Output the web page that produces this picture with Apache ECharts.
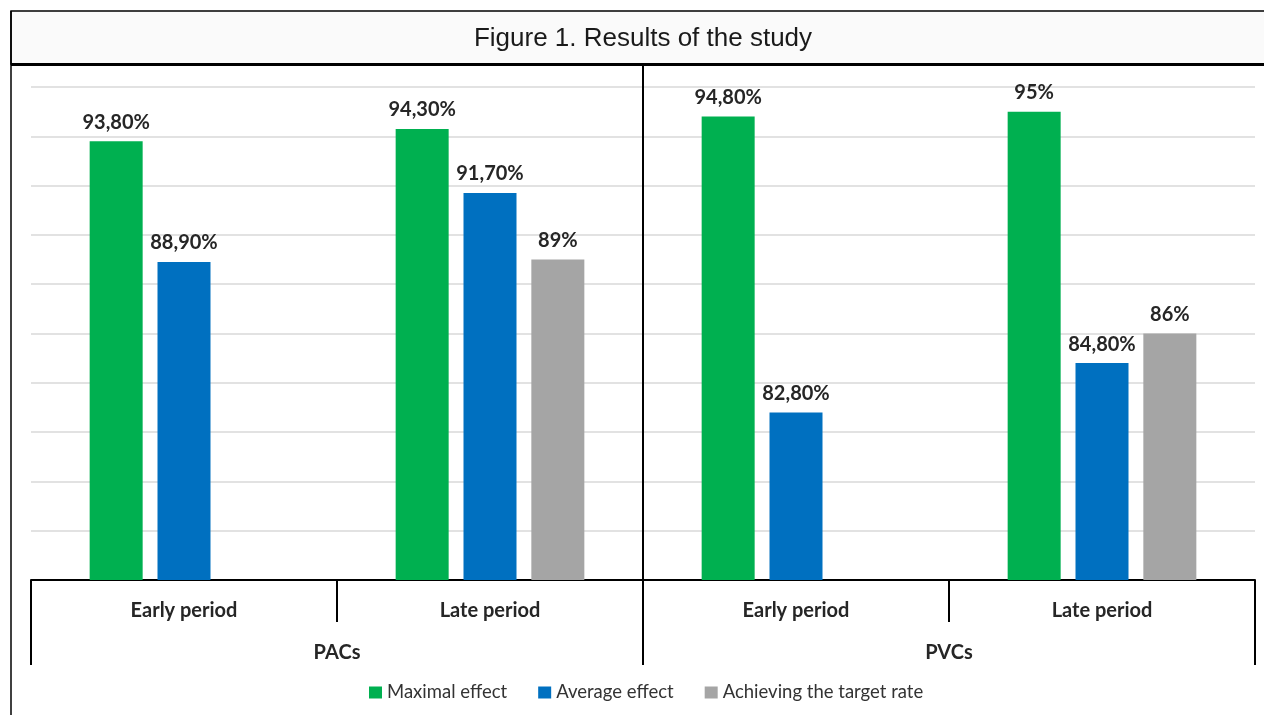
<!DOCTYPE html>
<html>
<head>
<meta charset="utf-8">
<style>
  html, body { margin: 0; padding: 0; background: #ffffff; }
  #chart { width: 1264px; height: 715px; }
</style>
<script src="https://cdn.jsdelivr.net/npm/echarts@6/dist/echarts.min.js"></script>
</head>
<body>
<div id="chart"></div>
<script>
// Periods (inner level) and arrhythmia type (outer level) of the category axis
const periods = ['Early period', 'Late period', 'Early period', 'Late period'];
const groups = ['PACs', 'PVCs'];

// Series names and values (%)
const seriesNames = ['Maximal effect', 'Average effect', 'Achieving the target rate'];
const maximalEffect = [93.8, 94.3, 94.8, 95];
const averageEffect = [88.9, 91.7, 82.8, 84.8];
const targetRate = [null, 89, null, 86];

const colors = ['#00B050', '#0070C0', '#A5A5A5'];

// Percent label with decimal comma, e.g. 93,80% or 95%
function pct(v) {
  return Number.isInteger(v) ? v + '%' : v.toFixed(2).replace('.', ',') + '%';
}

const chart = echarts.init(document.getElementById('chart'), null, { renderer: 'canvas' });

const labelStyle = {
  show: true,
  position: 'top',
  distance: 9,
  fontFamily: 'Lato',
  fontWeight: 'bold',
  fontSize: 20,
  color: '#262626',
  formatter: p => pct(p.value)
};

function barSeries(name, data, color) {
  return {
    name: name,
    type: 'bar',
    xAxisIndex: 0,
    data: data,
    barWidth: 53,
    barGap: '28%',
    itemStyle: { color: color },
    label: labelStyle
  };
}

chart.setOption({
  animation: false,
  backgroundColor: '#ffffff',
  title: {
    text: 'Figure 1. Results of the study',
    left: 638,
    top: 21,
    textAlign: 'center',
    textStyle: { fontFamily: 'Liberation Sans', fontSize: 26, fontWeight: 'normal', color: '#1a1a1a' }
  },
  legend: {
    data: seriesNames,
    bottom: 8,
    left: 364,
    icon: 'rect',
    itemWidth: 13,
    itemHeight: 12,
    itemGap: 31,
    textStyle: { fontFamily: 'Lato', fontSize: 18.5, color: '#333333' }
  },
  grid: { left: 31, right: 9, top: 87, bottom: 135 },
  xAxis: [
    {
      type: 'category',
      data: periods,
      position: 'bottom',
      axisLine: { show: true, lineStyle: { color: '#000000', width: 2 } },
      axisTick: { show: true, length: 42, interval: 0, lineStyle: { color: '#000000', width: 2 } },
      axisLabel: { interval: 0, margin: 21, fontFamily: 'Lato', fontWeight: 'bold', fontSize: 20, color: '#262626' },
      splitLine: { show: false }
    },
    {
      type: 'category',
      data: groups,
      position: 'bottom',
      axisLine: { show: false },
      axisTick: { show: true, length: 85, interval: 0, lineStyle: { color: '#000000', width: 2 } },
      axisLabel: { interval: 0, margin: 63, fontFamily: 'Lato', fontWeight: 'bold', fontSize: 20, color: '#262626' },
      splitLine: { show: false }
    }
  ],
  yAxis: {
    type: 'value',
    min: 76,
    max: 96,
    interval: 2,
    axisLine: { show: false },
    axisTick: { show: false },
    axisLabel: { show: false },
    splitLine: { show: true, lineStyle: { color: '#D9D9D9', width: 1.5 } }
  },
  series: [
    barSeries(seriesNames[0], maximalEffect, colors[0]),
    barSeries(seriesNames[1], averageEffect, colors[1]),
    barSeries(seriesNames[2], targetRate, colors[2])
  ]
});

// Frame, title band and the divider between the PACs and PVCs halves
const gridRect = chart.getModel().getComponent('grid').coordinateSystem.getRect();
const xLeftHalfEnd = chart.convertToPixel({ xAxisIndex: 0 }, 1);
const xRightHalfStart = chart.convertToPixel({ xAxisIndex: 0 }, 2);
const dividerX = Math.round((xLeftHalfEnd + xRightHalfStart) / 2);
const axisY = gridRect.y + gridRect.height;

chart.setOption({
  graphic: [
    {
      type: 'rect', z: -10, silent: true,
      shape: { x: 11, y: 11, width: 1270, height: 53 },
      style: { fill: '#FAFAFA', stroke: '#000000', lineWidth: 1.5 }
    },
    {
      type: 'line', z: 10, silent: true,
      shape: { x1: 11, y1: 11, x2: 11, y2: 720 },
      style: { stroke: '#000000', lineWidth: 1.5 }
    },
    {
      type: 'line', z: 10, silent: true,
      shape: { x1: 11, y1: 64.5, x2: 1270, y2: 64.5 },
      style: { stroke: '#000000', lineWidth: 3 }
    },
    {
      type: 'line', z: 10, silent: true,
      shape: { x1: dividerX, y1: 65, x2: dividerX, y2: axisY },
      style: { stroke: '#000000', lineWidth: 2 }
    }
  ]
});
</script>
</body>
</html>
